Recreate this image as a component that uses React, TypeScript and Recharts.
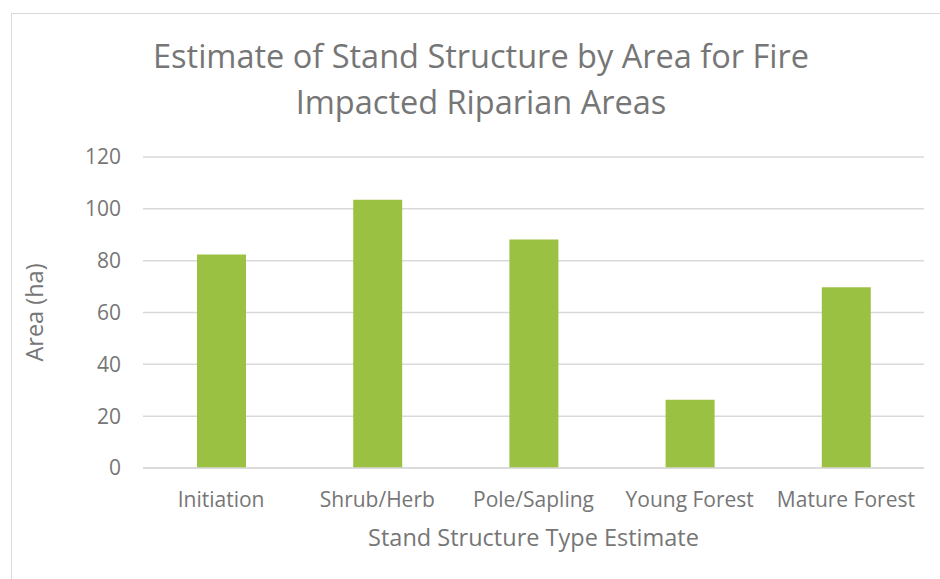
import { BarChart, Bar, XAxis, YAxis, CartesianGrid } from 'recharts'

const categories = ['Initiation', 'Shrub/Herb', 'Pole/Sapling', 'Young Forest', 'Mature Forest']
const areaHa = [82.4, 103.5, 88.2, 26.3, 69.7]
const yTicks = [0, 20, 40, 60, 80, 100, 120]

const data = categories.map((name, i) => ({ name, area: areaHa[i] }))

const FONT = '"Open Sans", sans-serif'
const TEXT = '#767676'
const GRID = '#d9d9d9'

export default function App() {
  return (
    <div
      style={{
        position: 'absolute',
        left: 0,
        top: 0,
        width: 940,
        height: 579,
        overflow: 'hidden',
        background: '#fff',
        fontFamily: FONT,
      }}
    >
      <div
        style={{
          position: 'absolute',
          left: 11,
          top: 13,
          width: 960,
          height: 620,
          border: `1.5px solid ${GRID}`,
        }}
      />
      <div
        style={{
          position: 'absolute',
          left: 0,
          top: 33,
          width: 962,
          textAlign: 'center',
          fontSize: 32.5,
          lineHeight: '46px',
          color: TEXT,
        }}
      >
        Estimate of Stand Structure by Area for Fire
        <br />
        Impacted Riparian Areas
      </div>
      <BarChart
        width={940}
        height={579}
        data={data}
        margin={{ top: 157, right: 16, bottom: 81, left: 0 }}
        barSize={49}
        style={{ position: 'absolute', left: 0, top: 0 }}
      >
        <CartesianGrid vertical={false} stroke={GRID} strokeWidth={1.5} />
        <XAxis
          dataKey="name"
          height={30}
          axisLine={{ stroke: GRID, strokeWidth: 1.5 }}
          tickLine={false}
          tickSize={0}
          tickMargin={24}
          interval={0}
          tick={{ fontSize: 21, fill: TEXT, fontFamily: FONT }}
          label={{
            content: ({ viewBox }: any) => (
              <text
                x={viewBox.x + viewBox.width / 2}
                y={546}
                textAnchor="middle"
                fontSize={23.5}
                fill={TEXT}
                fontFamily={FONT}
              >
                Stand Structure Type Estimate
              </text>
            ),
          }}
        />
        <YAxis
          width={143}
          domain={[0, 120]}
          ticks={yTicks}
          axisLine={false}
          tickLine={false}
          tickSize={0}
          tickMargin={22}
          tick={{ fontSize: 21, fill: TEXT, fontFamily: FONT }}
          label={{
            content: ({ viewBox }: any) => {
              const cx = 34
              const cy = viewBox.y + viewBox.height / 2
              return (
                <text
                  x={cx}
                  y={cy}
                  transform={`rotate(-90 ${cx} ${cy})`}
                  textAnchor="middle"
                  dominantBaseline="central"
                  fontSize={23.5}
                  fill={TEXT}
                  fontFamily={FONT}
                >
                  Area (ha)
                </text>
              )
            },
          }}
        />
        <Bar dataKey="area" fill="#9bc143" isAnimationActive={false} />
      </BarChart>
    </div>
  )
}
